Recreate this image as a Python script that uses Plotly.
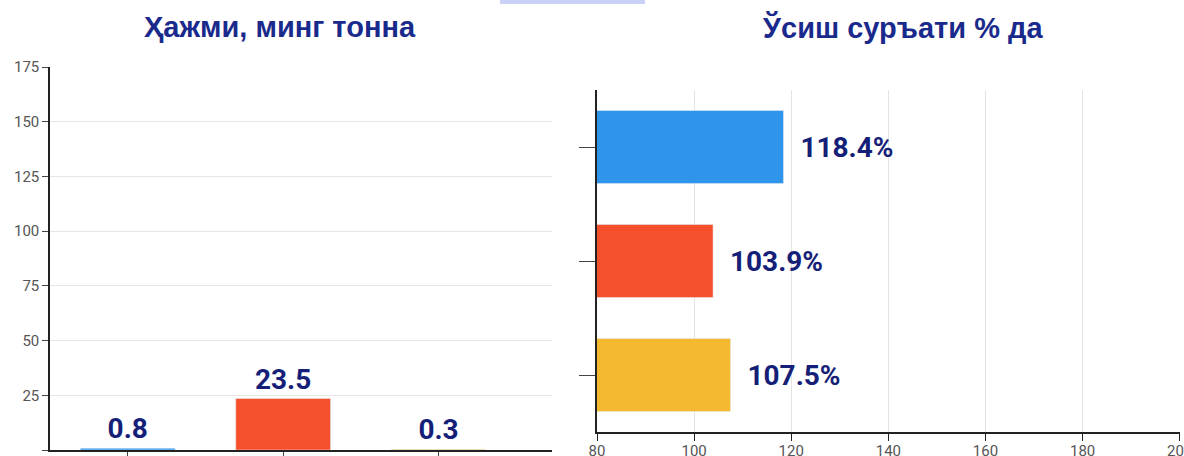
import plotly.graph_objects as go

W, H = 1184, 456

categories = ["A", "B", "C"]
volume = [0.8, 23.5, 0.3]
growth = [118.4, 103.9, 107.5]
bar_colors = ["#2f95ea", "#f5502b", "#f4b92f"]
left_title = "Ҳажми, минг тонна"
right_title = "Ўсиш суръати % да"
left_ticks = [0, 25, 50, 75, 100, 125, 150, 175]
right_ticks = [80, 100, 120, 140, 160, 180, 200]

NAVY = "#151f78"
TITLE = "#1a2a8c"

def px(x):
    return x / W

def py(y):
    return 1 - y / H

fig = go.Figure()

fig.add_trace(go.Bar(
    x=categories, y=volume, marker_color=bar_colors, width=0.61,
    text=[f"{v}" for v in volume], textposition="outside",
    textfont=dict(family="Roboto", size=28, color=NAVY, weight="bold"),
    constraintext="none", cliponaxis=False,
    xaxis="x", yaxis="y", showlegend=False, hoverinfo="skip",
))

fig.add_trace(go.Bar(
    y=categories, x=growth, orientation="h", marker_color=bar_colors, width=0.64,
    text=[f"\u00a0\u00a0{v}%" for v in growth], textposition="outside",
    textfont=dict(family="Roboto", size=28, color=NAVY, weight="bold"),
    constraintext="none", cliponaxis=False,
    xaxis="x2", yaxis="y2", showlegend=False, hoverinfo="skip",
))

fig.update_layout(
    width=W, height=H, margin=dict(l=0, r=0, t=0, b=0, autoexpand=False),
    paper_bgcolor="white", plot_bgcolor="white",
    xaxis=dict(domain=[px(50), px(552)], range=[-0.5, 2.73], showticklabels=False,
               ticks="outside", ticklen=10, tickcolor="#444", showline=True,
               linecolor="#222", linewidth=1.5, showgrid=False, zeroline=False,
               fixedrange=True, automargin=False),
    yaxis=dict(domain=[py(450), py(67)], range=[0, 175], tickvals=left_ticks,
               ticks="outside", ticklen=6, tickcolor="#444", showline=True,
               linecolor="#222", linewidth=1.5, showgrid=True, gridcolor="#e6e6e6",
               zeroline=False, tickfont=dict(family="Roboto", size=15, color="#555"),
               fixedrange=True, automargin=False),
    xaxis2=dict(domain=[px(597), px(1180)], range=[80, 200.05], tickvals=right_ticks,
                anchor="y2", ticks="outside", ticklen=7, tickcolor="#222", showline=True,
                linecolor="#222", linewidth=2, showgrid=True, gridcolor="#e3e3e3",
                zeroline=False, tickfont=dict(family="Roboto", size=15, color="#555"),
                ticklabeloverflow="allow", ticklabelstandoff=-3,
                fixedrange=True, automargin=False),
    yaxis2=dict(domain=[py(432), py(90)], range=[2.5, -0.5], anchor="x2",
                showticklabels=False, ticks="outside", ticklen=16, tickcolor="#444",
                showline=True, linecolor="#222", linewidth=2, showgrid=False,
                zeroline=False, fixedrange=True, automargin=False),
    annotations=[
        dict(text=f"<b>{left_title}</b>", x=px(280), y=py(27), xref="paper", yref="paper",
             showarrow=False, font=dict(family="Liberation Sans", size=29, color=TITLE),
             xanchor="center", yanchor="middle"),
        dict(text=f"<b>{right_title}</b>", x=px(902), y=py(27), xref="paper", yref="paper",
             showarrow=False, font=dict(family="Liberation Sans", size=29, color=TITLE),
             xanchor="center", yanchor="middle"),
    ],
    shapes=[
        dict(type="rect", xref="paper", yref="paper", x0=px(500), x1=px(645),
             y0=py(4), y1=1, fillcolor="#c9d1f7", line=dict(width=0), layer="above"),
    ],
)

fig.write_html("out.html", config={"displayModeBar": False},
               post_script="document.body.style.margin='0';")
